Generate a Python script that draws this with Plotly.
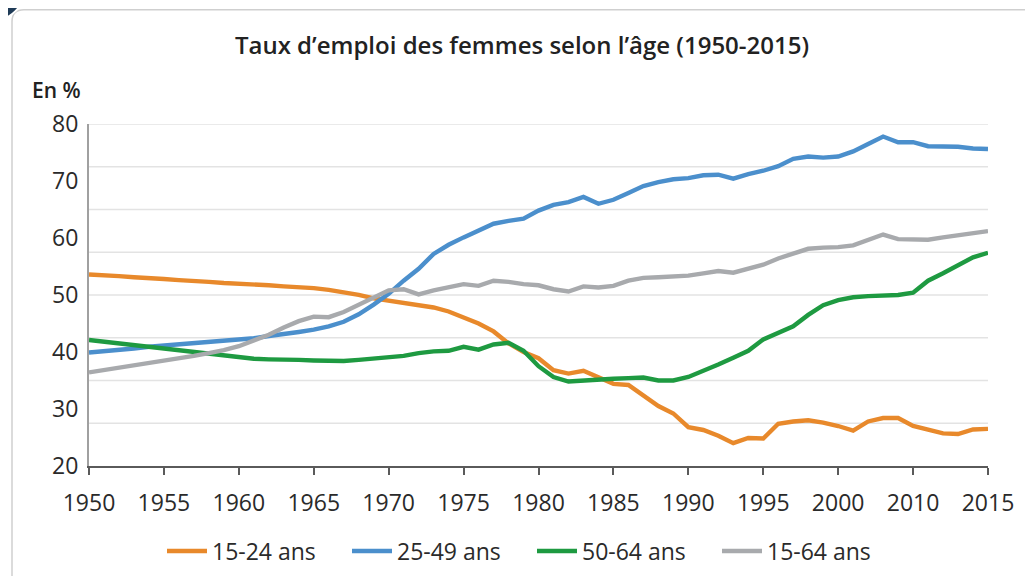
import plotly.graph_objects as go

# Position years (axis is linear, one point per year)
years = list(range(1950, 2011))

tick_vals = list(range(1950, 2011, 5))
tick_labels = ["1950", "1955", "1960", "1965", "1970", "1975", "1980",
               "1985", "1990", "1995", "2000", "2010", "2015"]
y_tick_vals = [20, 30, 40, 50, 60, 70, 80]
grid_levels = [27.5, 35, 42.5, 50, 57.5, 65, 72.5, 80]

s_15_24 = [53.6, 53.5, 53.3, 53.1, 53.0, 52.8, 52.6, 52.5, 52.3, 52.1,
           52.0, 51.8, 51.7, 51.5, 51.4, 51.2, 50.9, 50.5, 50.0, 49.4,
           49.0, 48.7, 48.3, 47.8, 47.1, 46.1, 45.0, 43.6, 41.5, 40.0,
           38.9, 36.8, 36.2, 36.7, 35.6, 34.4, 34.2, 32.4, 30.5, 29.2,
           26.8, 26.3, 25.3, 24.0, 24.9, 24.8, 27.4, 27.8, 28.0, 27.6,
           27.0, 26.2, 27.8, 28.4, 28.4, 27.0, 26.3, 25.7, 25.6, 26.4,
           26.5]

s_25_49 = [39.9, 40.1, 40.4, 40.6, 40.9, 41.1, 41.3, 41.5, 41.7, 41.9,
           42.1, 42.4, 42.8, 43.1, 43.5, 43.9, 44.5, 45.3, 46.6, 48.3,
           50.2, 52.5, 54.6, 57.2, 58.8, 60.1, 61.3, 62.5, 63.0, 63.4,
           64.8, 65.8, 66.3, 67.2, 66.0, 66.7, 67.9, 69.1, 69.8, 70.3,
           70.5, 71.0, 71.1, 70.4, 71.2, 71.8, 72.6, 73.9, 74.3, 74.1,
           74.3, 75.2, 76.5, 77.8, 76.8, 76.8, 76.1, 76.0, 76.0, 75.7,
           75.6]

s_50_64 = [42.1, 41.8, 41.5, 41.2, 40.9, 40.6, 40.3, 40.0, 39.8, 39.5,
           39.1, 38.8, 38.7, 38.7, 38.6, 38.5, 38.4, 38.4, 38.6, 38.8,
           39.0, 39.3, 39.8, 40.1, 40.2, 40.9, 40.4, 41.3, 41.6, 40.2,
           37.5, 35.6, 34.8, 35.0, 35.2, 35.3, 35.4, 35.5, 35.0, 35.0,
           35.6, 36.6, 37.8, 39.0, 40.2, 42.2, 43.4, 44.5, 46.5, 48.2,
           49.1, 49.6, 49.8, 49.9, 50.0, 50.4, 52.5, 53.8, 55.3, 56.6,
           57.4]

s_15_64 = [36.4, 36.8, 37.2, 37.6, 38.0, 38.4, 38.8, 39.3, 39.8, 40.3,
           41.0, 42.0, 43.0, 44.3, 45.4, 46.2, 46.1, 47.0, 48.3, 49.6,
           50.8, 51.0, 50.1, 50.8, 51.4, 51.9, 51.6, 52.5, 52.3, 51.9,
           51.7, 51.0, 50.6, 51.5, 51.3, 51.6, 52.5, 53.0, 53.1, 53.2,
           53.4, 53.8, 54.2, 53.9, 54.7, 55.3, 56.4, 57.3, 58.1, 58.3,
           58.4, 58.7, 59.6, 60.6, 59.8, 59.7, 59.7, 60.1, 60.5, 60.9,
           61.2]

series_names = ["15-24 ans", "25-49 ans", "50-64 ans", "15-64 ans"]
series_values = [s_15_24, s_25_49, s_50_64, s_15_64]
series_colors = ["#E8892B", "#4B8FCC", "#1E9A41", "#A8AAAD"]

FONT = "Open Sans"
OFF = 8  # page body margin
W, H = 1033 - OFF, 576 - OFF
L, R, T, B = 81, 45, 116, 108

fig = go.Figure()
for name, vals, col in zip(series_names, series_values, series_colors):
    fig.add_trace(go.Scatter(x=years, y=vals, mode="lines", name=name,
                             line=dict(color=col, width=4.4),
                             hoverinfo="x+y+name"))

for g in grid_levels:
    fig.add_hline(y=g, line=dict(color="#E3E3E3", width=1.5), layer="below")

pw, ph = W - L - R, H - T - B


def px(x):
    return (x - OFF - L) / pw


def py(y):
    return (H - B - (y - OFF)) / ph


# outer frame with rounded top-left corner
x0, xr = px(12), px(1040)
yt, yb = py(9), py(590)
rx, ry = 12 / pw, 12 / ph
fig.add_shape(type="path", xref="paper", yref="paper",
              path=f"M {x0},{yb} L {x0},{yt-ry} Q {x0},{yt} {x0+rx},{yt} L {xr},{yt}",
              line=dict(color="#CFCFCF", width=1.5), layer="below")
# dark decorative corner disc
cx, cy, r = -10, -15, 36
fig.add_shape(type="circle", xref="paper", yref="paper",
              x0=px(cx - r), x1=px(cx + r), y0=py(cy + r), y1=py(cy - r),
              fillcolor="#1F3B57", line=dict(color="#FFFFFF", width=2))

fig.add_annotation(text="En %", xref="paper", yref="paper",
                   x=px(83), y=py(90),
                   xanchor="right", yanchor="middle", showarrow=False,
                   font=dict(family=FONT, size=21, color="#222222", weight=600))

fig.update_layout(
    width=W, height=H,
    margin=dict(l=L, r=R, t=T, b=B),
    paper_bgcolor="white", plot_bgcolor="white",
    font=dict(family=FONT, color="#2A2A2A"),
    title=dict(text="Taux d’emploi des femmes selon l’âge (1950-2015)",
               x=(522 - OFF) / W, xref="container", xanchor="center",
               y=1 - (46 - OFF) / H, yref="container", yanchor="middle",
               font=dict(family=FONT, size=24, color="#222222", weight=600)),
    xaxis=dict(range=[1950, 2010], tickvals=tick_vals, ticktext=tick_labels,
               showgrid=False, zeroline=False, showline=True,
               linecolor="#5A5A5A", linewidth=2, ticks="outside", ticklen=7,
               tickwidth=1.5, tickcolor="#5A5A5A",
               tickfont=dict(family=FONT, size=23, color="#2A2A2A"),
               ticklabelstandoff=8),
    yaxis=dict(range=[20, 80], tickvals=y_tick_vals, showgrid=False,
               zeroline=False, showline=True, linecolor="#A0A0A0", linewidth=2,
               ticks="", ticklabelstandoff=4,
               tickfont=dict(family=FONT, size=23, color="#2A2A2A")),
    legend=dict(orientation="h", xref="container", yref="container",
                x=(532 - OFF) / W, xanchor="center",
                y=1 - (551 - OFF) / H, yanchor="middle",
                font=dict(family=FONT, size=23, color="#2A2A2A"),
                itemwidth=40, entrywidth=130, entrywidthmode="pixels",
                tracegroupgap=0, bgcolor="rgba(0,0,0,0)"),
    showlegend=True,
)

fig.write_html("out.html")
